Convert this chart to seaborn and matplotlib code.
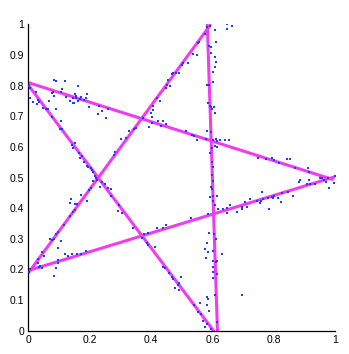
import matplotlib
matplotlib.use("Agg")
import matplotlib.pyplot as plt
import seaborn as sns
import pandas as pd
import numpy as np

# ---- data: star edges (start/end of each of the five segments) ----
seg_id = [1, 2, 3, 4, 5]
seg_x0 = [0.0, 0.0, 0.0, 0.583, 0.0]
seg_y0 = [0.810, 0.196, 0.188, 0.998, 0.802]
seg_x1 = [0.990, 1.000, 0.592, 0.616, 0.603]
seg_y1 = [0.494, 0.503, 0.997, 0.0, 0.0]

# ---- data: noisy sample points ----
pts_x = [
    0.002, 0.005, 0.006, 0.016, 0.024, 0.031, 0.029, 0.036, 0.047, 0.057, 0.065, 0.068, 0.076, 0.080, 0.083,
    0.085, 0.090, 0.089, 0.078, 0.105, 0.107, 0.111, 0.121, 0.123, 0.136, 0.145, 0.147, 0.150, 0.152, 0.154,
    0.154, 0.161, 0.163, 0.168, 0.172, 0.182, 0.187, 0.191, 0.198, 0.226, 0.230, 0.241, 0.252, 0.261,
    0.583, 0.592, 0.648, 0.662, 0.646, 0.608, 0.575, 0.611, 0.590, 0.594, 0.557, 0.552, 0.535, 0.549, 0.594,
    0.608, 0.611, 0.608, 0.601, 0.521, 0.505, 0.500, 0.492, 0.472, 0.469, 0.481, 0.456, 0.453, 0.462, 0.449,
    0.601, 0.581, 0.590, 0.418, 0.429, 0.407, 0.405, 0.399, 0.402, 0.586, 0.592, 0.594, 0.605, 0.597, 0.608,
    0.373, 0.424, 0.440, 0.402, 0.449,
    0.103, 0.111, 0.152, 0.141, 0.147, 0.165, 0.176, 0.168, 0.182, 0.190, 0.195, 0.204, 0.212, 0.206, 0.217,
    0.223, 0.212, 0.219, 0.241, 0.234, 0.250, 0.261, 0.269, 0.204, 0.198, 0.269, 0.172, 0.190, 0.139, 0.136,
    0.152, 0.158, 0.152, 0.147, 0.136, 0.117, 0.295, 0.291, 0.306, 0.302, 0.317, 0.282, 0.280, 0.328,
    0.344, 0.351, 0.394, 0.431, 0.514, 0.532, 0.540, 0.549, 0.583, 0.595, 0.579, 0.603, 0.611, 0.616, 0.624,
    0.641, 0.655, 0.608, 0.614, 0.597, 0.592, 0.597, 0.603, 0.599, 0.601, 0.594, 0.597, 0.592, 0.603, 0.614,
    0.601, 0.608, 0.619, 0.633, 0.646, 0.657, 0.648, 0.584, 0.529, 0.449, 0.420, 0.440, 0.342,
    0.089, 0.098, 0.071, 0.078, 0.085, 0.107, 0.098, 0.046, 0.052, 0.033, 0.031, 0.038, 0.035, 0.046, 0.006,
    0.002, 0.098, 0.096, 0.090, 0.085, 0.120, 0.128, 0.141, 0.158, 0.172, 0.187,
    0.377, 0.391, 0.369, 0.386, 0.391, 0.413, 0.440, 0.445, 0.459, 0.467, 0.470, 0.497, 0.492, 0.489, 0.478,
    0.492, 0.540, 0.559, 0.554, 0.562, 0.568, 0.576, 0.583, 0.595, 0.588, 0.605, 0.611, 0.583, 0.576, 0.586,
    0.603, 0.630, 0.579, 0.601, 0.611, 0.616, 0.601, 0.603, 0.616, 0.601, 0.608, 0.583, 0.584, 0.583, 0.588,
    0.614,
    0.747, 0.773, 0.793, 0.801, 0.817, 0.842, 0.852, 0.868, 0.910, 0.914, 0.880, 0.885, 0.907, 0.914, 0.918,
    0.934, 0.950, 0.958, 0.964, 0.969, 0.977, 0.999, 0.997, 0.979, 0.847, 0.825, 0.863, 0.823, 0.814, 0.801,
    0.795, 0.782, 0.798, 0.765, 0.762, 0.758, 0.755, 0.744, 0.722, 0.706, 0.711, 0.695, 0.695, 0.679, 0.784,
    0.695,
]
pts_y = [
    0.800, 0.791, 0.759, 0.748, 0.780, 0.753, 0.739, 0.748, 0.726, 0.723, 0.724, 0.751, 0.775, 0.780, 0.819,
    0.766, 0.816, 0.724, 0.699, 0.686, 0.778, 0.790, 0.814, 0.762, 0.750, 0.761, 0.745, 0.742, 0.773, 0.767,
    0.759, 0.800, 0.751, 0.757, 0.762, 0.753, 0.759, 0.773, 0.729, 0.708, 0.735, 0.718, 0.694, 0.723,
    0.991, 0.995, 1.002, 0.995, 0.985, 0.982, 0.969, 0.941, 0.930, 0.925, 0.944, 0.939, 0.904, 0.900, 0.908,
    0.895, 0.878, 0.860, 0.846, 0.873, 0.875, 0.868, 0.843, 0.843, 0.838, 0.843, 0.819, 0.802, 0.800, 0.791,
    0.813, 0.802, 0.802, 0.761, 0.750, 0.735, 0.721, 0.710, 0.699, 0.744, 0.734, 0.729, 0.731, 0.723, 0.712,
    0.693, 0.686, 0.686, 0.677, 0.675,
    0.658, 0.658, 0.612, 0.606, 0.597, 0.579, 0.570, 0.563, 0.552, 0.538, 0.535, 0.530, 0.519, 0.525, 0.506,
    0.492, 0.489, 0.497, 0.486, 0.470, 0.478, 0.465, 0.462, 0.465, 0.459, 0.441, 0.443, 0.423, 0.430, 0.418,
    0.412, 0.414, 0.394, 0.388, 0.375, 0.345, 0.410, 0.391, 0.383, 0.626, 0.630, 0.582, 0.574, 0.652,
    0.658, 0.661, 0.666, 0.668, 0.652, 0.639, 0.637, 0.623, 0.652, 0.648, 0.626, 0.623, 0.626, 0.619, 0.623,
    0.623, 0.623, 0.604, 0.601, 0.595, 0.581, 0.552, 0.535, 0.508, 0.489, 0.470, 0.462, 0.437, 0.441, 0.441,
    0.423, 0.410, 0.397, 0.397, 0.401, 0.410, 0.383, 0.380, 0.367, 0.345, 0.334, 0.334, 0.334,
    0.315, 0.323, 0.298, 0.296, 0.298, 0.293, 0.269, 0.258, 0.243, 0.233, 0.220, 0.211, 0.207, 0.203, 0.200,
    0.192, 0.230, 0.222, 0.205, 0.180, 0.250, 0.243, 0.250, 0.249, 0.249, 0.260,
    0.315, 0.320, 0.301, 0.287, 0.279, 0.274, 0.207, 0.203, 0.187, 0.176, 0.167, 0.176, 0.156, 0.149, 0.140,
    0.132, 0.083, 0.091, 0.061, 0.054, 0.032, 0.012, 0.021, 0.004, 0.320, 0.315, 0.298, 0.287, 0.265, 0.258,
    0.261, 0.249, 0.236, 0.228, 0.225, 0.228, 0.207, 0.192, 0.185, 0.171, 0.116, 0.110, 0.102, 0.083, 0.064,
    0.029,
    0.563, 0.560, 0.563, 0.557, 0.546, 0.559, 0.560, 0.530, 0.532, 0.519, 0.486, 0.492, 0.478, 0.492, 0.478,
    0.478, 0.497, 0.499, 0.492, 0.486, 0.497, 0.506, 0.481, 0.467, 0.452, 0.448, 0.441, 0.419, 0.434, 0.441,
    0.437, 0.434, 0.434, 0.430, 0.452, 0.423, 0.416, 0.423, 0.430, 0.419, 0.405, 0.405, 0.397, 0.388, 0.396,
    0.116,
]

x_ticks = [0, 0.2, 0.4, 0.6, 0.8, 1.0]
x_ticklabels = ["0", "0.2", "0.4", "0.6", "0.8", "1"]
y_ticks = [0, 0.1, 0.2, 0.3, 0.4, 0.5, 0.6, 0.7, 0.8, 0.9, 1.0]
y_ticklabels = ["0", "0.1", "0.2", "0.3", "0.4", "0.5", "0.6", "0.7", "0.8", "0.9", "1"]

# ---- build tables ----
lines_df = pd.DataFrame({
    "seg": seg_id * 2,
    "x": seg_x0 + seg_x1,
    "y": seg_y0 + seg_y1,
    "order": [0] * 5 + [1] * 5,
}).sort_values(["seg", "order"])
pts_df = pd.DataFrame({"x": pts_x, "y": pts_y})

sns.set_style("white")
plt.rcParams["font.family"] = ["Liberation Sans", "DejaVu Sans"]

fig = plt.figure(figsize=(3.49, 3.54), dpi=100)
ax = fig.add_axes([0.081, 0.066, 0.880, 0.865])

sns.lineplot(data=lines_df, x="x", y="y", units="seg", estimator=None, sort=False,
             color="#f03cf0", linewidth=2.2, ax=ax, zorder=2)
sns.scatterplot(data=pts_df, x="x", y="y", color="#1e3cff", s=4, linewidth=0,
                marker="s", ax=ax, zorder=3)

ax.set_xlim(0, 1)
ax.set_ylim(0, 1)
ax.set_xticks(x_ticks)
ax.set_xticklabels(x_ticklabels)
ax.set_yticks(y_ticks)
ax.set_yticklabels(y_ticklabels)
ax.set_xlabel("")
ax.set_ylabel("")
ax.tick_params(direction="in", length=3.5, width=0.9, labelsize=7.5, pad=3, colors="black")
for s in ["top", "right"]:
    ax.spines[s].set_visible(False)
for s in ["left", "bottom"]:
    ax.spines[s].set_color("black")
    ax.spines[s].set_linewidth(0.9)
ax.grid(False)

fig.savefig("out.png", dpi=100)
